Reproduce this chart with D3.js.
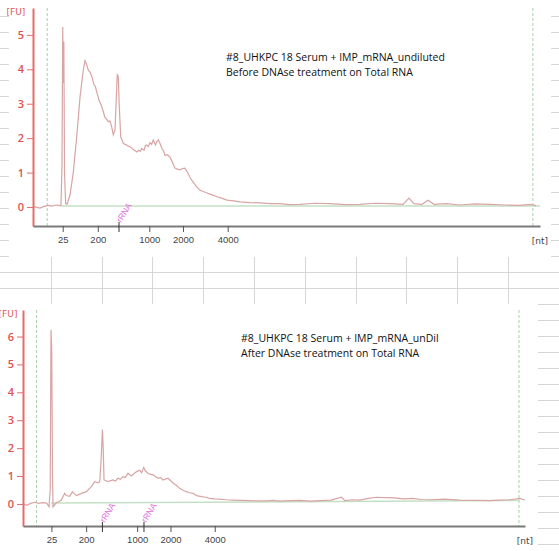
<!DOCTYPE html>
<html>
<head>
<meta charset="utf-8">
<script src="https://cdn.jsdelivr.net/npm/d3@7"></script>
<style>
  body { margin: 0; background: #fff; }
  svg { display: block; }
</style>
</head>
<body>
<div id="chart"></div>
<script>
const topTime = [19.0, 19.3, 19.69, 20.08, 20.48, 20.87, 21.27, 21.66, 21.76, 21.86, 21.93, 21.99, 22.04, 22.11, 22.22,
  22.35, 22.65, 22.97, 23.31, 23.64, 23.96, 24.13, 24.28, 24.45, 24.62, 24.79, 25.02, 25.15, 25.28, 25.51, 25.78, 26.1,
  26.25, 26.43, 26.6, 26.76, 26.92, 27.09, 27.19, 27.31, 27.41, 27.51, 27.65, 27.91, 28.08, 28.24, 28.4, 28.57, 28.86, 29.05, 29.23,
  29.45, 29.6, 29.72, 29.95, 30.08, 30.21, 30.38, 30.54, 30.7, 30.86, 31.08, 31.22, 31.36, 31.52, 31.72, 31.88, 32.02, 32.25, 32.51, 32.75, 33.0, 33.25, 33.5, 33.75, 33.99,
  34.29, 34.5, 34.78, 35.1, 35.47, 35.8, 36.16, 36.6, 37.15, 37.6, 38.13, 38.8, 39.41, 40.4, 41.39, 42.4, 43.36, 44.3, 45.33, 46.8, 48.29, 49.8, 51.25, 52.7, 54.21, 55.49, 56.08,
  56.57, 57.36, 57.95, 58.55, 59.8, 61.11, 62.6, 64.07, 65.5, 67.03, 68.01, 68.61];
const topFU = [0.02, 0.0, -0.03, 0.02, 0.05, 0.03, 0.06, 0.04, 0.05, 1.2, 5.23, 3.6, 4.8, 1.0, 0.1,
  0.08, 0.35, 1.0, 2.04, 3.2, 3.98, 4.25, 4.15, 3.98, 3.92, 3.8, 3.55, 3.5, 3.35, 3.1, 2.92, 2.6,
  2.55, 2.48, 2.5, 2.33, 2.1, 2.24, 3.0, 3.84, 3.8, 2.92, 2.04, 1.85, 1.82, 1.8, 1.77, 1.75, 1.68, 1.64, 1.6,
  1.65, 1.62, 1.7, 1.65, 1.78, 1.8, 1.76, 1.87, 1.82, 1.95, 1.8, 1.9, 1.95, 1.85, 1.7, 1.62, 1.5, 1.52, 1.45, 1.3, 1.13, 1.1, 1.08, 1.12, 1.13,
  0.98, 0.85, 0.73, 0.6, 0.49, 0.45, 0.41, 0.36, 0.3, 0.26, 0.2, 0.18, 0.15, 0.13, 0.12, 0.1, 0.1, 0.07, 0.08, 0.11, 0.1, 0.07, 0.08, 0.11, 0.1, 0.08, 0.26,
  0.1, 0.08, 0.2, 0.08, 0.1, 0.06, 0.09, 0.08, 0.06, 0.05, 0.08, 0.04];

const bottomTime = [19.1, 19.47, 19.87, 20.27, 20.66, 21.06, 21.46, 21.69, 21.81, 21.89, 21.96, 22.04, 22.09, 22.43,
  22.66, 22.92, 23.25, 23.42, 23.75, 24.02, 24.42, 24.92, 25.41, 25.91, 26.24, 26.57, 26.74, 26.87, 27.01,
  27.09, 27.17, 27.57, 28.06, 28.3, 28.56, 28.8, 29.06, 29.3, 29.56, 29.9, 30.15, 30.39, 30.72, 30.92, 31.12, 31.3, 31.55, 31.8, 32.05, 32.3, 32.55,
  32.8, 33.04, 33.54, 33.8, 34.04, 34.4, 34.71, 35.0, 35.37, 35.7, 36.03, 36.4, 36.87, 37.3, 37.7, 38.2, 38.7, 39.3, 40.0, 40.8, 41.7, 42.5, 43.39, 44.0, 44.68, 45.7, 46.68, 47.7, 48.67,
  49.8, 50.83, 51.16, 51.9, 52.64, 53.5, 54.3, 55.2, 56.13, 57.0, 57.92, 58.8, 59.62, 61.1, 62.61, 64.1, 65.59, 66.6, 67.58, 68.58, 69.07];
const bottomFU = [0.0, -0.05, 0.02, 0.06, 0.02, 0.05, 0.03, -0.1, 0.5, 6.24, 5.5, 1.0, -0.1, 0.05,
  0.08, 0.14, 0.38, 0.3, 0.27, 0.44, 0.3, 0.38, 0.44, 0.62, 0.8, 0.76, 0.8, 1.5, 2.67,
  2.0, 0.86, 0.8, 0.86, 0.82, 0.92, 0.88, 0.98, 0.95, 1.1, 1.0, 1.08, 1.15, 1.21, 1.12, 1.31, 1.18, 1.1, 1.06, 1.04, 0.98, 0.92,
  0.95, 0.86, 0.92, 0.84, 0.75, 0.66, 0.56, 0.5, 0.44, 0.4, 0.38, 0.3, 0.26, 0.24, 0.2, 0.18, 0.17, 0.15, 0.14, 0.13, 0.12, 0.11, 0.11, 0.13, 0.1, 0.12, 0.13, 0.1, 0.12,
  0.14, 0.24, 0.12, 0.15, 0.14, 0.2, 0.24, 0.23, 0.22, 0.18, 0.2, 0.16, 0.15, 0.17, 0.14, 0.13, 0.12, 0.14, 0.15, 0.2, 0.14];

// Etiquetas del eje x (tamano en nt) y su tiempo de migracion
const sizeLabels = ['25', '200', '1000', '2000', '4000'];
const sizeTimes = [21.93, 25.39, 30.47, 33.79, 38.2];
const topYTicks = [0, 1, 2, 3, 4, 5];
const bottomYTicks = [0, 1, 2, 3, 4, 5, 6];

// Marcadores rRNA (tiempo) y ventanas de analisis (lineas verdes)
const topRRNA = [27.48];
const bottomRRNA = [27.01, 31.15];
const topWindow = [20.4, 68.3];
const bottomWindow = [20.45, 68.5];
const topBaseline = [[21.7, 0.03], [69.0, 0.03]];
const bottomBaseline = [[21.9, 0.03], [68.6, 0.13]];

const topTitle = ['#8_UHKPC 18 Serum + IMP_mRNA_undiluted', 'Before DNAse treatment on Total RNA'];
const bottomTitle = ['#8_UHKPC 18 Serum + IMP_mRNA_unDil', 'After DNAse treatment on Total RNA'];

const W = 559, H = 551;
const svg = d3.select('#chart').append('svg')
  .attr('width', W)
  .attr('height', H);

// Fondo tipo hoja de calculo (cuadricula)
const grid = svg.append('g').attr('stroke', '#d6d6d6').attr('stroke-width', 1);
for (let y = 16; y < H; y += 16) {
  grid.append('line').attr('x1', 0).attr('x2', W).attr('y1', y + 0.5).attr('y2', y + 0.5);
}
for (let i = 1; i <= 10; i++) {
  const x = Math.round(i * 50.8) + 0.5;
  grid.append('line').attr('x1', x).attr('x2', x).attr('y1', 0).attr('y2', H);
}

// Imagenes pegadas (fondo blanco)
svg.append('rect').attr('x', 9).attr('y', 0).attr('width', 542).attr('height', 257).attr('fill', '#fff');
svg.append('rect').attr('x', 0).attr('y', 304).attr('width', 538).attr('height', 247).attr('fill', '#fff');

function drawPanel(cfg) {
  const x = d3.scaleLinear().domain(cfg.xDomain).range([cfg.left, cfg.right]);
  const y = d3.scaleLinear().domain(cfg.yDomain).range([cfg.bottom, cfg.top]);
  const g = svg.append('g');

  // Lineas verdes de la ventana
  g.selectAll('.win')
    .data(cfg.window)
    .enter()
    .append('line')
    .attr('x1', d => x(d)).attr('x2', d => x(d))
    .attr('y1', cfg.top).attr('y2', cfg.bottom)
    .attr('stroke', '#a8cfa8')
    .attr('stroke-dasharray', '3,2');

  // Linea base
  g.append('path')
    .datum(cfg.baseline)
    .attr('d', d3.line().x(d => x(d[0])).y(d => y(d[1])))
    .attr('stroke', '#c4e0c4')
    .attr('stroke-width', 1.5)
    .attr('fill', 'none');

  // Traza
  const pts = cfg.time.map((t, i) => ({ t: t, v: cfg.fu[i] }));
  g.append('path')
    .datum(pts)
    .attr('d', d3.line().x(d => x(d.t)).y(d => y(d.v)))
    .attr('stroke', '#d9a4a4')
    .attr('stroke-width', 1.2)
    .attr('fill', 'none');

  // Eje y
  const yAxis = g.append('g')
    .attr('transform', `translate(${cfg.left},0)`)
    .call(d3.axisLeft(y).tickValues(cfg.yTicks).tickFormat(d3.format('d'))
      .tickSize(6).tickSizeOuter(0).tickPadding(3));
  yAxis.select('.domain').attr('stroke', '#e86a6a').attr('stroke-width', 2);
  yAxis.selectAll('.tick line').attr('stroke', '#e86a6a');
  yAxis.selectAll('.tick text')
    .attr('fill', '#e05050')
    .attr('font-family', 'Open Sans')
    .attr('font-weight', 600)
    .attr('font-size', '11px');

  // Eje x
  const xAxis = g.append('g')
    .attr('transform', `translate(0,${cfg.bottom})`)
    .call(d3.axisBottom(x).tickValues(sizeTimes).tickFormat((d, i) => sizeLabels[i])
      .tickSize(6).tickSizeOuter(0).tickPadding(4));
  xAxis.select('.domain').attr('stroke', '#7a7a7a').attr('stroke-width', 2);
  xAxis.selectAll('.tick line').attr('stroke', '#555');
  xAxis.selectAll('.tick text')
    .attr('fill', '#444')
    .attr('font-family', 'Liberation Sans')
    .attr('font-size', '9.5px');

  // Marcadores rRNA
  g.selectAll('.rr')
    .data(cfg.rrna)
    .enter()
    .append('line')
    .attr('x1', d => x(d)).attr('x2', d => x(d))
    .attr('y1', cfg.bottom - 4).attr('y2', cfg.bottom + 6)
    .attr('stroke', '#333');
  g.selectAll('.rrtxt')
    .data(cfg.rrna)
    .enter()
    .append('text')
    .attr('transform', d => `translate(${x(d) + 2},${cfg.bottom - 3}) rotate(-58)`)
    .attr('fill', '#e070e0')
    .attr('font-family', 'Liberation Sans')
    .attr('font-size', '8.5px')
    .text('rRNA');

  // Unidades
  g.append('text')
    .attr('x', cfg.fuX).attr('y', cfg.top + 7)
    .attr('text-anchor', 'middle')
    .attr('fill', '#e05858')
    .attr('font-family', 'DejaVu Sans')
    .attr('font-size', '9px')
    .text('[FU]');
  g.append('text')
    .attr('x', cfg.right).attr('y', cfg.bottom + 18)
    .attr('text-anchor', 'middle')
    .attr('fill', '#444')
    .attr('font-family', 'DejaVu Sans')
    .attr('font-size', '9px')
    .text('[nt]');

  // Titulo
  g.selectAll('.title')
    .data(cfg.title)
    .enter()
    .append('text')
    .attr('x', cfg.titleX)
    .attr('y', (d, i) => cfg.titleY + i * 15)
    .attr('fill', '#111')
    .attr('font-family', 'Open Sans')
    .attr('font-size', '10.5px')
    .text(d => d);
}

drawPanel({
  time: topTime, fu: topFU, yTicks: topYTicks, rrna: topRRNA, window: topWindow,
  baseline: topBaseline, title: topTitle,
  xDomain: [19, 69], yDomain: [-0.55, 5.78],
  left: 33, right: 540, top: 8, bottom: 226,
  fuX: 16, titleX: 226, titleY: 61
});

drawPanel({
  time: bottomTime, fu: bottomFU, yTicks: bottomYTicks, rrna: bottomRRNA, window: bottomWindow,
  baseline: bottomBaseline, title: bottomTitle,
  xDomain: [19.1, 69.1], yDomain: [-0.79, 6.95],
  left: 23, right: 525, top: 310, bottom: 526,
  fuX: 8, titleX: 241, titleY: 342
});
</script>
</body>
</html>
